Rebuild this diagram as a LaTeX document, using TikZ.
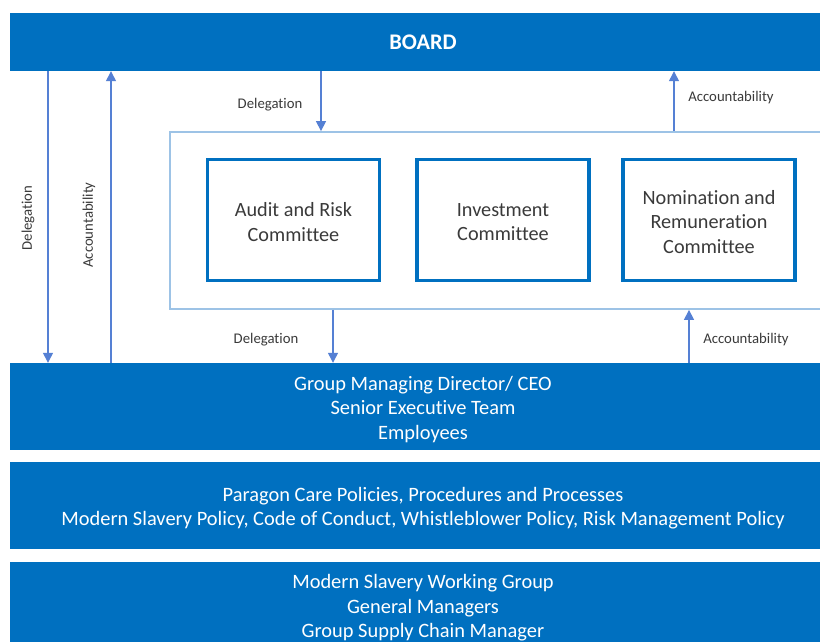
\documentclass[tikz,border=0pt]{standalone}
\usepackage{fontspec}
\setmainfont{Carlito}[Ligatures={NoCommon}]
\usetikzlibrary{arrows.meta}
\definecolor{barblue}{HTML}{0070C0}
\definecolor{framebl}{HTML}{9DC3E6}
\definecolor{flowbl}{HTML}{5580D4}
\definecolor{inktext}{HTML}{3A3A3A}
\tikzset{
  bar/.style={rectangle, fill=barblue, draw=none, inner sep=0pt,
    minimum width=826bp},
  bartext/.style={text=white, align=center, inner sep=0pt,
    font=\fontsize{20.5}{24.5}\selectfont},
  cmtbox/.style={rectangle, draw=barblue, line width=3.2bp, fill=white,
    minimum width=172bp, minimum height=121bp, inner sep=0pt},
  cmttext/.style={text=inktext, align=center, inner sep=0pt,
    font=\fontsize{20.3}{24.5}\selectfont},
  frame/.style={rectangle, draw=framebl, line width=1.8bp, inner sep=0pt,
    minimum width=666bp, minimum height=177bp},
  flow/.style={draw=flowbl, line width=1.3bp,
    -{Triangle[width=10bp,length=10bp]}},
  flowlabel/.style={text=inktext, inner sep=0pt,
    font=\fontsize{14.8}{17}\selectfont}
}
\begin{document}
\begin{tikzpicture}[x=1bp,y=-1bp]
  \clip (0,0) rectangle (820,642);
  \fill[white] (0,0) rectangle (820,642);

  % horizontal bands
  \node[bar, minimum height=58bp] (board) at (423,42) {};
  \node[bar, minimum height=87bp] (gmd) at (423,406.5) {};
  \node[bar, minimum height=87bp] (policy) at (423,505.5) {};
  \node[bar, minimum height=90bp] (msw) at (423,607) {};

  \node[bartext, font=\fontsize{22.4}{26}\selectfont\bfseries]
    (boardtxt) at (board.center) {BOARD};
  \node[bartext] (gmdtxt) at ([yshift=-2.8bp]gmd.center)
    {Group Managing Director/ CEO\\Senior Executive Team\\Employees};
  \node[bartext] (policytxt) at ([yshift=-2.8bp]policy.center)
    {Paragon Care Policies, Procedures and Processes\\Modern Slavery Policy, Code of Conduct, Whistleblower Policy, Risk Management Policy};
  \node[bartext] (mswtxt) at ([yshift=-1bp]msw.center)
    {Modern Slavery Working Group\\General Managers\\Group Supply Chain Manager};

  % committee frame and committees
  \node[frame] (cmte) at (503,220.5) {};
  \node[cmtbox] (audit) at (293.5,220) {};
  \node[cmtbox] (invest) at (503,220) {};
  \node[cmtbox] (nomrem) at (709,220) {};
  \node[cmttext] (audittxt) at ([yshift=-2.2bp]audit.center) {Audit and Risk\\Committee};
  \node[cmttext] (investtxt) at ([yshift=-2.2bp]invest.center) {Investment\\Committee};
  \node[cmttext] (nomremtxt) at ([yshift=-1.8bp]nomrem.center) {Nomination and\\Remuneration\\Committee};

  % board <-> management
  \draw[flow] (board.south -| 48,0) -- (gmd.north -| 48,0);
  \draw[flow] (gmd.north -| 111,0) -- (board.south -| 111,0);
  \node[flowlabel, rotate=90] (lbl1) at (28,218) {Delegation};
  \node[flowlabel, rotate=90] (lbl2) at (89,225) {Accountability};

  % board <-> committees
  \draw[flow] (board.south -| 321,0) -- (cmte.north -| 321,0);
  \draw[flow] (cmte.north -| 674,0) -- (board.south -| 674,0);
  \node[flowlabel] (lbl3) at (270,105) {Delegation};
  \node[flowlabel] (lbl4) at (731,98) {Accountability};

  % committees <-> management
  \draw[flow] (cmte.south -| 333,0) -- (gmd.north -| 333,0);
  \draw[flow] (gmd.north -| 689,0) -- (cmte.south -| 689,0);
  \node[flowlabel] (lbl5) at (266,340) {Delegation};
  \node[flowlabel] (lbl6) at (746,340) {Accountability};
\end{tikzpicture}
\end{document}
